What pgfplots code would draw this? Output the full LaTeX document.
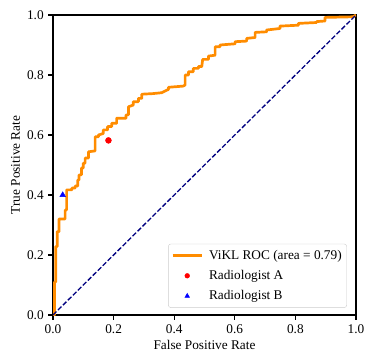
\documentclass[border=0pt]{standalone}
\usepackage{fontspec}
\setmainfont{Liberation Serif}
\usepackage{pgfplots}
\pgfplotsset{compat=1.18}
\definecolor{darkorange}{RGB}{255,140,0}
\definecolor{navyblue}{RGB}{0,0,128}
\definecolor{legedge}{RGB}{204,204,204}
\pgfplotsset{
  lineleg/.style={legend image code/.code={\draw[##1] (0bp,0bp) -- (29bp,0bp);}},
  markleg/.style={legend image code/.code={\path[draw=none, fill=none] (0bp,0bp) -- (29bp,0bp);
      \draw[##1, mark options={scale=0.8}] plot coordinates {(14.5bp,0bp)};}},
}
\begin{document}
\fontsize{13.3bp}{16bp}\selectfont
\begin{tikzpicture}
\useasboundingbox (-53bp,-49bp) rectangle (321bp,315bp);
\begin{axis}[
  at={(0,0)}, anchor=south west,
  scale only axis, width=303bp, height=300bp,
  xmin=0, xmax=1, ymin=0, ymax=1,
  xtick={0,0.2,0.4,0.6,0.8,1}, ytick={0,0.2,0.4,0.6,0.8,1},
  tick align=outside, tick pos=left,
  major tick length=4.7bp,
  every tick/.style={black, line width=1.07bp},
  /pgf/number format/assume math mode=true,
  xticklabel style={/pgf/number format/.cd, fixed, fixed zerofill, precision=1},
  yticklabel style={/pgf/number format/.cd, fixed, fixed zerofill, precision=1},
  tick label style={font=\fontsize{13.3bp}{16bp}\selectfont},
  label style={font=\fontsize{13.3bp}{16bp}\selectfont},
  xlabel={False Positive Rate}, ylabel={True Positive Rate},
  xlabel style={yshift=2bp}, ylabel style={yshift=-2bp},
  axis line style={line width=1.07bp},
  legend style={at={(0.97,0.024)}, anchor=south east, draw=legedge,
    rounded corners=2.5bp, font=\fontsize{13.3bp}{16bp}\selectfont,
    row sep=5bp, column sep=4bp, inner xsep=3bp, inner ysep=4bp},
  legend cell align=left,
]
\addplot[darkorange, line width=2.7bp, line join=round, lineleg] coordinates {
(0,0)(0.005,0)(0.005,0.11)(0.009,0.11)(0.009,0.228)(0.014,0.228)(0.014,0.278)
(0.02,0.278)(0.02,0.32)(0.04,0.32)(0.04,0.35)(0.045,0.35)(0.045,0.417)
(0.062,0.417)(0.062,0.423)(0.073,0.423)(0.073,0.43)(0.082,0.43)(0.082,0.45)
(0.086,0.45)(0.086,0.467)(0.094,0.467)(0.094,0.49)(0.1,0.49)(0.1,0.506)
(0.106,0.506)(0.106,0.523)(0.117,0.523)(0.117,0.544)(0.139,0.547)(0.139,0.594)
(0.15,0.594)(0.15,0.60)(0.166,0.605)(0.166,0.617)(0.18,0.617)(0.18,0.628)
(0.194,0.628)(0.194,0.639)(0.21,0.639)(0.21,0.656)(0.241,0.656)(0.241,0.667)
(0.249,0.667)(0.249,0.694)(0.265,0.70)(0.265,0.711)(0.282,0.711)(0.282,0.722)
(0.293,0.722)(0.293,0.736)(0.33,0.738)(0.359,0.741)(0.365,0.744)(0.381,0.752)
(0.381,0.759)(0.43,0.763)(0.436,0.767)(0.436,0.80)(0.447,0.80)(0.447,0.811)
(0.463,0.811)(0.463,0.822)(0.48,0.822)(0.48,0.828)(0.491,0.828)(0.494,0.852)
(0.513,0.852)(0.513,0.863)(0.535,0.866)(0.535,0.894)(0.551,0.894)(0.551,0.90)
(0.601,0.904)(0.601,0.911)(0.639,0.913)(0.639,0.922)(0.667,0.925)(0.667,0.942)
(0.705,0.944)(0.705,0.95)(0.749,0.955)(0.749,0.963)(0.81,0.966)(0.81,0.972)
(0.87,0.975)(0.87,0.978)(0.898,0.98)(0.898,0.992)(0.99,0.994)(1,1)
};
\addlegendentry{ViKL ROC (area = 0.79)}
\addplot[navyblue, line width=1.3bp, dash pattern=on 4.9bp off 2.1bp, forget plot] coordinates {(0,0)(1,1)};
\addplot[only marks, mark=*, mark size=3bp, red, mark options={draw=red, fill=red}, markleg] coordinates {(0.183,0.582)};
\addlegendentry{Radiologist A}
\addplot[only marks, mark=triangle*, mark size=3.3bp, blue, mark options={draw=blue, fill=blue}, markleg] coordinates {(0.032,0.40)};
\addlegendentry{Radiologist B}
\end{axis}
\end{tikzpicture}
\end{document}
